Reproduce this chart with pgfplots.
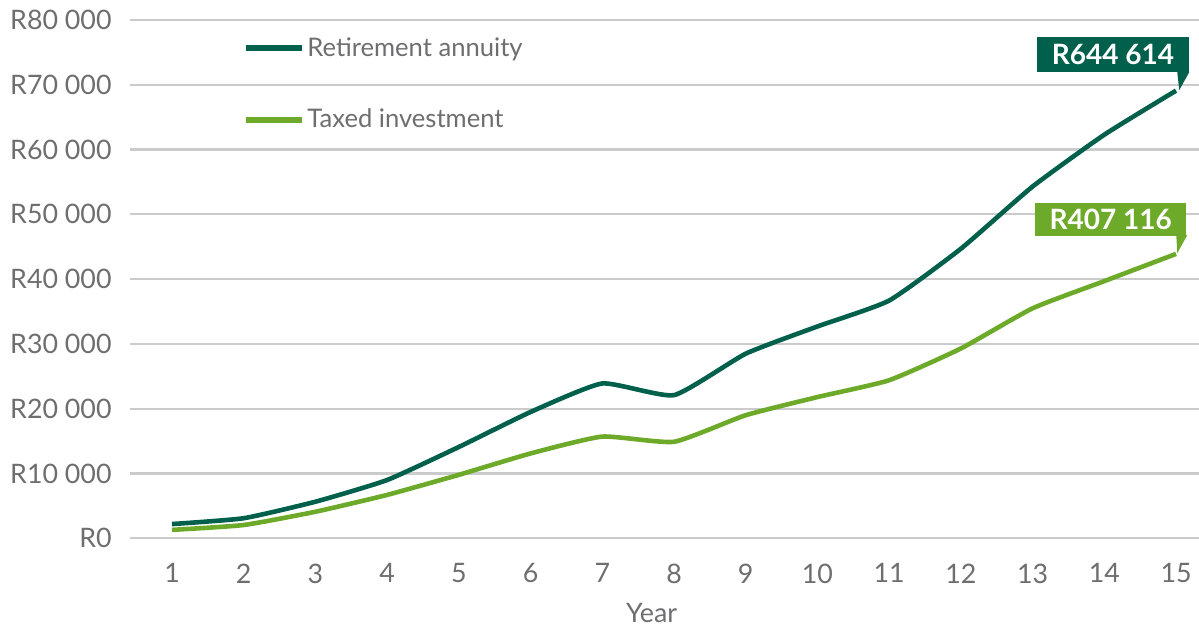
\documentclass[border=0pt]{standalone}
\usepackage{pgfplots}
\pgfplotsset{compat=1.18}
\usepackage{fontspec}
\setmainfont{Lato}
\definecolor{darkg}{HTML}{00604B}
\definecolor{lightg}{HTML}{6EAA2A}
\definecolor{textgray}{HTML}{6E6E70}
\definecolor{gridc}{HTML}{CBCBCB}
\begin{document}
\begin{tikzpicture}
\begin{axis}[
  at={(0,0)}, anchor=south west,
  scale only axis,
  width=534.5pt, height=259.15pt,
  xmin=0.414, xmax=15.32,
  ymin=0, ymax=80000,
  scaled y ticks=false,
  axis line style={draw=none},
  major tick length=0pt,
  xtick={1,...,15},
  xticklabels={1,2,3,4,5,6,7,8,9,10,11,12,13,14,15},
  ytick={0,10000,...,80000},
  yticklabels={R0,R10 000,R20 000,R30 000,R40 000,R50 000,R60 000,R70 000,R80 000},
  ymajorgrids,
  grid style={gridc, line width=1.1pt},
  tick label style={text=textgray, font=\fontsize{13.4}{16}\selectfont},
  xticklabel style={anchor=north, inner sep=0pt, yshift=-12.5pt},
  yticklabel style={anchor=east, inner sep=0pt, xshift=-9pt},
  xlabel={Year},
  xlabel style={at={(axis description cs:0.488,0)}, anchor=center, yshift=-37.5pt, text=textgray, font=\fontsize{13.4}{16}\selectfont},
  legend style={at={(axis cs:1.99,77700)}, anchor=north west, draw=none, fill=none,
    inner sep=0pt, row sep=23pt, font=\fontsize{12.8}{15}\selectfont, text=textgray,
    nodes={inner sep=1pt}},
  legend cell align=left,
  legend image code/.code={\draw[#1, line width=3pt] (0pt,0pt) -- (28pt,0pt);},
  clip=false,
]
\addplot[darkg, line width=2.3pt, smooth, tension=0.3] coordinates {
 (1,2200) (2,3100) (3,5650) (4,9000) (5,14100) (6,19500) (7,23900) (8,22100)
 (9,28500) (10,32700) (11,36700) (12,44700) (13,54300) (14,62300) (15,69100)};
\addlegendentry{Retirement annuity}
\addplot[lightg, line width=2.3pt, smooth, tension=0.3] coordinates {
 (1,1300) (2,2050) (3,4100) (4,6700) (5,9800) (6,13100) (7,15700) (8,14900)
 (9,19000) (10,21800) (11,24400) (12,29300) (13,35500) (14,39700) (15,43900)};
\addlegendentry{Taxed investment}
% callouts
\node[fill=darkg, text=white, font=\bfseries\fontsize{14}{16}\selectfont, minimum width=76pt, minimum height=17.5pt, inner sep=0pt] at (axis cs:14.12,74660) {R644 614};
\fill[darkg] (axis cs:15.017,71960) -- (axis cs:15.184,71960) -- (axis cs:15.045,69180) -- cycle;
\node[fill=lightg, text=white, font=\bfseries\fontsize{14}{16}\selectfont, minimum width=75.5pt, minimum height=16.5pt, inner sep=0pt] at (axis cs:14.09,49270) {R407 116};
\fill[lightg] (axis cs:15.003,46800) -- (axis cs:15.156,46800) -- (axis cs:15.017,44000) -- cycle;
\end{axis}
\pgfresetboundingbox
\path (-65pt,-44.35pt) rectangle (534.5pt,269.15pt);
\end{tikzpicture}
\end{document}
